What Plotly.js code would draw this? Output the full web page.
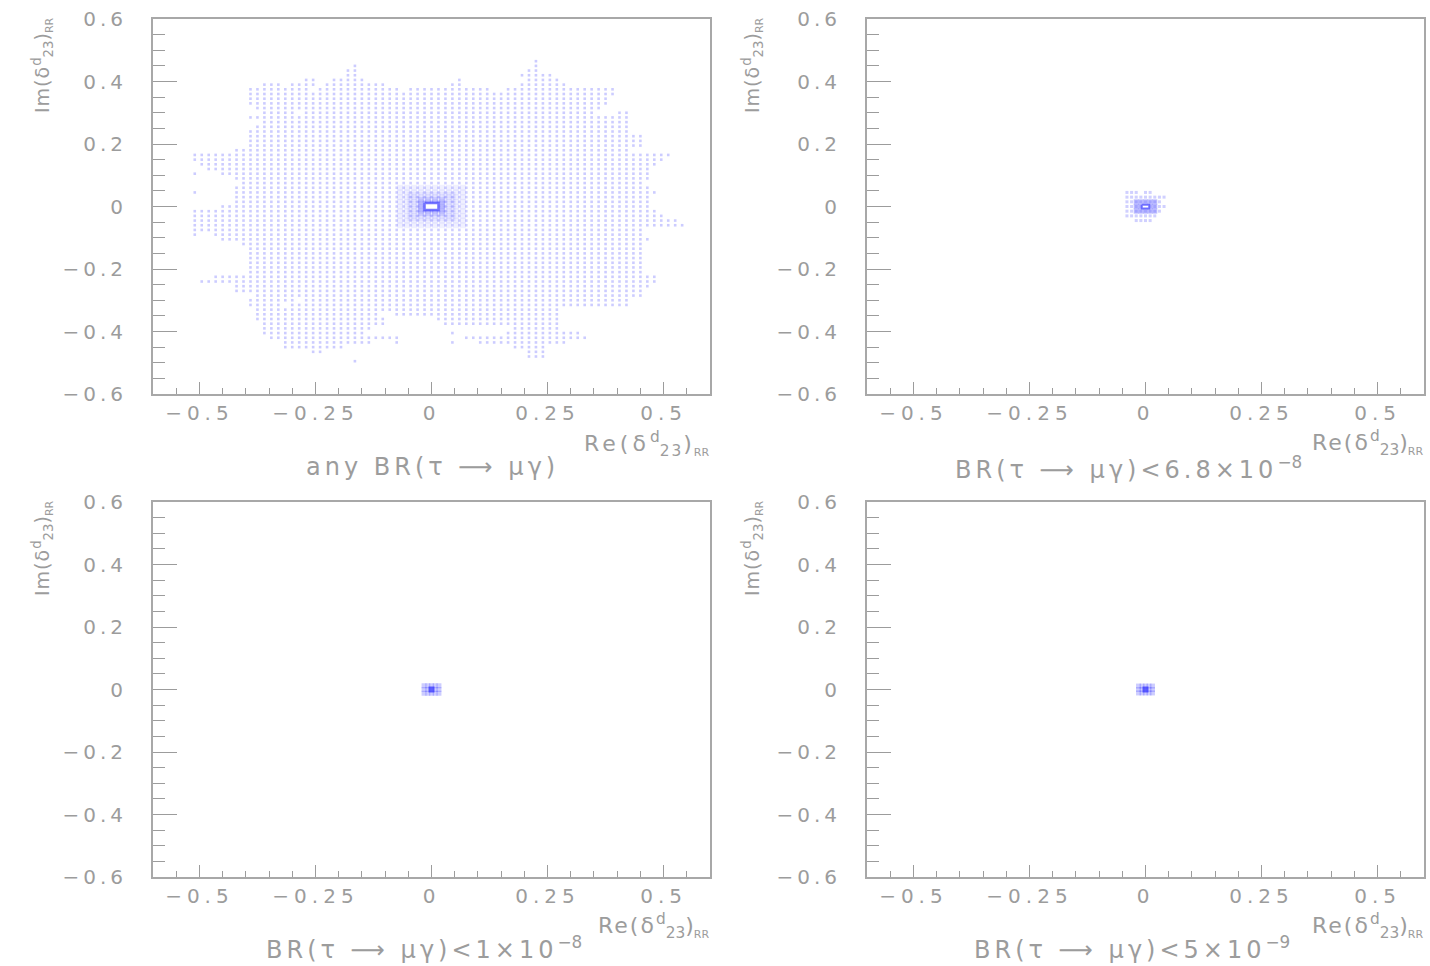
<!DOCTYPE html>
<html>
<head>
<meta charset="utf-8">
<script src="https://cdn.plot.ly/plotly-3.0.1.min.js"></script>
<style>
html,body{margin:0;padding:0;background:#fff;}
#chart{width:1430px;height:966px;}
.xaxislayer-above text{letter-spacing:5px;}
.yaxislayer-above text{letter-spacing:4px;}
</style>
</head>
<body>
<div id="chart"></div>
<script>
// ---------------- DATA ----------------
// Panel 1 (any BR): scan lattice, rows of Im values with runs [Re_start, Re_end] of occupied lattice points
const scanStep = 0.015;
const tlRowY = [0.465,0.45,0.435,0.42,0.405,0.39,0.375,0.36,0.345,0.33,0.315,0.3,0.285,0.27,0.255,0.24,0.225,0.21,0.195,0.18,0.165,0.15,0.135,0.12,0.105,0.09,0.075,0.06,0.045,0.03,0.015,0,
 -0.015,-0.03,-0.045,-0.06,-0.075,-0.09,-0.105,-0.12,-0.135,-0.15,-0.165,-0.18,-0.195,-0.21,-0.225,-0.24,-0.255,-0.27,-0.285,-0.3,-0.315,-0.33,-0.345,-0.36,-0.375,-0.39,-0.405,-0.42,-0.435,-0.45,-0.465,-0.48,-0.495];
const tlRowRuns = [
 [[0.225,0.225]],
 [[-0.165,-0.165],[0.225,0.225]],
 [[-0.18,-0.165],[0.21,0.225]],
 [[-0.18,-0.165],[0.195,0.255]],
 [[-0.27,-0.255],[-0.21,-0.15],[0.06,0.06],[0.21,0.27]],
 [[-0.36,-0.33],[-0.3,-0.255],[-0.225,-0.105],[0.045,0.06],[0.195,0.285]],
 [[-0.39,-0.27],[-0.24,-0.075],[-0.045,0.12],[0.165,0.39]],
 [[-0.39,0.39]],
 [[-0.39,0.375]],
 [[-0.39,0.375]],
 [[-0.375,0.36]],
 [[-0.36,-0.3],[-0.27,0.345],[0.405,0.42]],
 [[-0.39,0.42]],
 [[-0.36,0.42]],
 [[-0.375,0.42]],
 [[-0.39,0.42]],
 [[-0.39,0.45]],
 [[-0.39,0.45]],
 [[-0.39,0.45]],
 [[-0.42,0.42]],
 [[-0.51,0.51]],
 [[-0.51,0.495]],
 [[-0.495,0.48]],
 [[-0.48,0.465]],
 [[-0.51,-0.51],[-0.45,0.465]],
 [[-0.42,0.465]],
 [[-0.405,0.45]],
 [[-0.42,0.465]],
 [[-0.51,-0.51],[-0.42,0.48]],
 [[-0.42,0.465]],
 [[-0.42,0.465]],
 [[-0.45,0.465]],
 [[-0.51,0.48]],
 [[-0.51,0.495]],
 [[-0.51,0.525]],
 [[-0.51,0.54]],
 [[-0.51,0.45]],
 [[-0.51,-0.51],[-0.465,0.45]],
 [[-0.45,0.465]],
 [[-0.405,0.45]],
 [[-0.39,0.45]],
 [[-0.39,0.45]],
 [[-0.39,0.45]],
 [[-0.39,0.45]],
 [[-0.39,0.45]],
 [[-0.39,0.45]],
 [[-0.465,0.48]],
 [[-0.495,0.48]],
 [[-0.42,0.465]],
 [[-0.42,0.45]],
 [[-0.375,0.45]],
 [[-0.39,-0.3],[-0.27,0.42]],
 [[-0.39,-0.33],[-0.3,0.42]],
 [[-0.375,0.27]],
 [[-0.375,-0.12],[-0.075,0.27]],
 [[-0.375,-0.105],[0.015,0.27]],
 [[-0.36,-0.105],[0.03,0.27]],
 [[-0.36,-0.135],[0.18,0.27]],
 [[-0.36,-0.15],[0.045,0.045],[0.165,0.315]],
 [[-0.345,-0.075],[0.075,0.33]],
 [[-0.315,-0.135],[-0.075,-0.075],[0.045,0.045],[0.105,0.285]],
 [[-0.315,-0.195],[0.18,0.24]],
 [[-0.255,-0.24],[0.21,0.24]],
 [[0.21,0.24]],
 [[-0.165,-0.165]]
];
// denser halo near the origin (panel 1), nested layers
const tlHalo1X = [-0.0675,-0.0525,-0.0375,-0.0225,-0.0075,0.0075,0.0225,0.0375,0.0525,0.0675];
const tlHalo1Y = [-0.06,-0.045,-0.03,-0.015,0,0.015,0.03,0.045,0.06];
const tlHalo2X = [-0.045,-0.03,-0.015,0,0.015,0.03,0.045];
const tlHalo2Y = [-0.0375,-0.0225,-0.0075,0.0075,0.0225,0.0375];
const tlHalo3X = [-0.0225,-0.0075,0.0075,0.0225];
const tlHalo3Y = [-0.02,-0.01,0,0.01,0.02];
const tlBoxX = [-0.015,0.015,0.015,-0.015,-0.015];
const tlBoxY = [0.011,0.011,-0.011,-0.011,0.011];

// Panel 2 (BR < 6.8e-8)
const trStep = 0.01;
const trRowY = [0.045,0.03,0.015,0,-0.015,-0.03,-0.045];
const trRowRuns = [
 [[-0.04,-0.02],[0.0,0.01]],
 [[-0.04,0.04]],
 [[-0.04,0.03]],
 [[-0.04,0.04]],
 [[-0.04,0.03]],
 [[-0.04,0.02]],
 [[-0.02,0.01]]
];
const trCoreX = [-0.02,-0.01,0,0.01,0.02];
const trCoreY = [-0.015,0,0.015];
const trBoxX = [-0.008,0.008,0.008,-0.008,-0.008];
const trBoxY = [0.006,0.006,-0.006,-0.006,0.006];

// Panel 3 (BR < 1e-8) and Panel 4 (BR < 5e-9)
const blX = [-0.016,-0.008,0,0.008,0.016];
const blY = [-0.012,0,0.012];
const brX = [-0.015,-0.0075,0,0.0075,0.015];
const brY = [-0.011,0,0.011];

// ticks
const xTickVals = [-0.5,-0.25,0,0.25,0.5];
const xTickText = ['\u22120.5','\u22120.25','0','0.25','0.5'];
const yTickVals = [-0.6,-0.4,-0.2,0,0.2,0.4,0.6];
const yTickText = ['\u22120.6','\u22120.4','\u22120.2','0','0.2','0.4','0.6'];

const sp = (t,s)=>'<span style="letter-spacing:'+s+'px">'+t+'</span>';
const panelTitles = [
 sp('any BR(\u03c4 \u27f6 \u03bc\u03b3)',4),
 sp('BR(\u03c4 \u27f6 \u03bc\u03b3)&lt;6.8\u00d710',4)+'<sup>\u22128</sup>',
 sp('BR(\u03c4 \u27f6 \u03bc\u03b3)&lt;1\u00d710',4)+'<sup>\u22128</sup>',
 sp('BR(\u03c4 \u27f6 \u03bc\u03b3)&lt;5\u00d710',4)+'<sup>\u22129</sup>'
];
const xTitleWide = sp('Re(\u03b4',4)+'<sup>d</sup><sub>'+sp('23',2)+'</sub>'+sp(')',2)+'<sub><span style="font-size:11px">RR</span></sub>';
const xTitleNarrow = sp('Re(\u03b4',2)+'<sup>d</sup><sub>23</sub>)<sub><span style="font-size:11px">RR</span></sub>';
const yTitle = sp('Im(\u03b4',1)+'<sup>d</sup><sub>23</sub>)<sub><span style="font-size:11px">RR</span></sub>';

// ---------------- BUILD ----------------
function expandRuns(rowY, rowRuns, step){
  const xs=[], ys=[];
  rowY.forEach((y,r)=>{
    rowRuns[r].forEach(([a,b])=>{
      const n = Math.round((b-a)/step);
      for(let k=0;k<=n;k++){ xs.push(a+k*step); ys.push(y); }
    });
  });
  return {xs, ys};
}
function cross(xa, ya){
  const xs=[], ys=[];
  ya.forEach(y=>xa.forEach(x=>{xs.push(x);ys.push(y);}));
  return {xs, ys};
}

const dots = (x,y,xa,ya,color,size)=>({type:'scatter',mode:'markers',x,y,xaxis:xa,yaxis:ya,
  marker:{symbol:'square',size:size,color:color,line:{width:0}},hoverinfo:'skip',showlegend:false});
const box = (x,y,xa,ya,w)=>({type:'scatter',mode:'lines',x,y,xaxis:xa,yaxis:ya,fill:'toself',fillcolor:'#ffffff',
  line:{color:'rgba(85,85,255,0.8)',width:w},hoverinfo:'skip',showlegend:false});

const traces=[];
const tl = expandRuns(tlRowY, tlRowRuns, scanStep);
traces.push(dots(tl.xs, tl.ys,'x','y','rgba(100,100,255,0.33)',2.6));
[[tlHalo1X,tlHalo1Y,0.09,6],[tlHalo2X,tlHalo2Y,0.12,6],[tlHalo3X,tlHalo3Y,0.18,6]].forEach(([hx,hy,a,s])=>{
  const h = cross(hx,hy);
  traces.push(dots(h.xs,h.ys,'x','y','rgba(90,90,255,'+a+')',s));
});
traces.push(box(tlBoxX, tlBoxY,'x','y',2.5));

const tr = expandRuns(trRowY, trRowRuns, trStep);
traces.push(dots(tr.xs, tr.ys,'x2','y2','rgba(100,100,255,0.3)',3));
const trc = cross(trCoreX, trCoreY);
traces.push(dots(trc.xs, trc.ys,'x2','y2','rgba(80,80,255,0.35)',5));
traces.push(box(trBoxX, trBoxY,'x2','y2',2));

const bl = cross(blX, blY);
traces.push(dots(bl.xs, bl.ys,'x3','y3','rgba(90,90,255,0.3)',5));
traces.push(dots([0],[0],'x3','y3','rgba(60,60,255,0.75)',6));
const br = cross(brX, brY);
traces.push(dots(br.xs, br.ys,'x4','y4','rgba(90,90,255,0.3)',5));
traces.push(dots([0],[0],'x4','y4','rgba(60,60,255,0.75)',6));

// ---------------- LAYOUT ----------------
const W=1430, H=966;
const gray='#9c9c9c';
const tickFont={family:'DejaVu Sans, sans-serif',size:20,color:gray};
function xAxis(dom, anchor){
  return {domain:dom, anchor:anchor, range:[-0.6,0.6], tickmode:'array', tickvals:xTickVals, ticktext:xTickText,
    ticks:'inside', ticklen:12, tickwidth:1.3, tickcolor:gray, showline:true, linecolor:'#a8a8a8', linewidth:1.5, mirror:true,
    showgrid:false, zeroline:false, tickfont:tickFont, ticklabelstandoff:0,
    minor:{tickmode:'linear', tick0:0, dtick:0.05, ticks:'inside', ticklen:6, tickwidth:1.2, tickcolor:gray, showgrid:false},
    fixedrange:true};
}
function yAxis(dom, anchor){
  return {domain:dom, anchor:anchor, range:[-0.6,0.6], tickmode:'array', tickvals:yTickVals, ticktext:yTickText,
    ticks:'inside', ticklen:24, tickwidth:1.3, tickcolor:gray, showline:true, linecolor:'#a8a8a8', linewidth:2, mirror:true,
    showgrid:false, zeroline:false, tickfont:tickFont, ticklabelstandoff:20,
    minor:{tickmode:'linear', tick0:0, dtick:0.05, ticks:'inside', ticklen:12, tickwidth:1.2, tickcolor:gray, showgrid:false},
    fixedrange:true};
}
const xL=[153/W,710/W], xR=[867/W,1424/W];
const yT=[1-394/H,1-19/H], yB=[1-877/H,1-502/H];

const annFont={family:'DejaVu Sans, sans-serif',size:22,color:gray};
const yTitleFont={family:'DejaVu Sans, sans-serif',size:19,color:gray};
const titleFont={family:'DejaVu Sans, sans-serif',size:24,color:gray};
const ann=[];
function addPanelText(xRight, xCenterTitle, yTitleCenter, yAxisTitleY, yAxisTitleX, yRe, title, reText){
  ann.push({xref:'paper',yref:'paper',x:xRight/W,y:1-yRe/H,xanchor:'right',yanchor:'middle',text:reText,showarrow:false,font:annFont});
  ann.push({xref:'paper',yref:'paper',x:yAxisTitleX/W,y:1-yAxisTitleY/H,xanchor:'center',yanchor:'middle',textangle:-90,text:yTitle,showarrow:false,font:yTitleFont});
  ann.push({xref:'paper',yref:'paper',x:xCenterTitle/W,y:1-yTitleCenter/H,xanchor:'center',yanchor:'middle',text:title,showarrow:false,font:titleFont});
}
addPanelText(712, 432, 467, 65, 42, 444, panelTitles[0], xTitleWide);
addPanelText(1426, 1128, 468, 65, 752, 443, panelTitles[1], xTitleNarrow);
addPanelText(712, 424, 948, 548, 42, 926, panelTitles[2], xTitleNarrow);
addPanelText(1426, 1132, 948, 548, 752, 926, panelTitles[3], xTitleNarrow);

const layout={width:W,height:H,margin:{l:0,r:0,t:0,b:0},paper_bgcolor:'#fff',plot_bgcolor:'#fff',showlegend:false,
  xaxis:xAxis(xL,'y'), yaxis:yAxis(yT,'x'),
  xaxis2:xAxis(xR,'y2'), yaxis2:yAxis(yT,'x2'),
  xaxis3:xAxis(xL,'y3'), yaxis3:yAxis(yB,'x3'),
  xaxis4:xAxis(xR,'y4'), yaxis4:yAxis(yB,'x4'),
  annotations:ann};

Plotly.newPlot('chart', traces, layout, {displayModeBar:false});
</script>
</body>
</html>
